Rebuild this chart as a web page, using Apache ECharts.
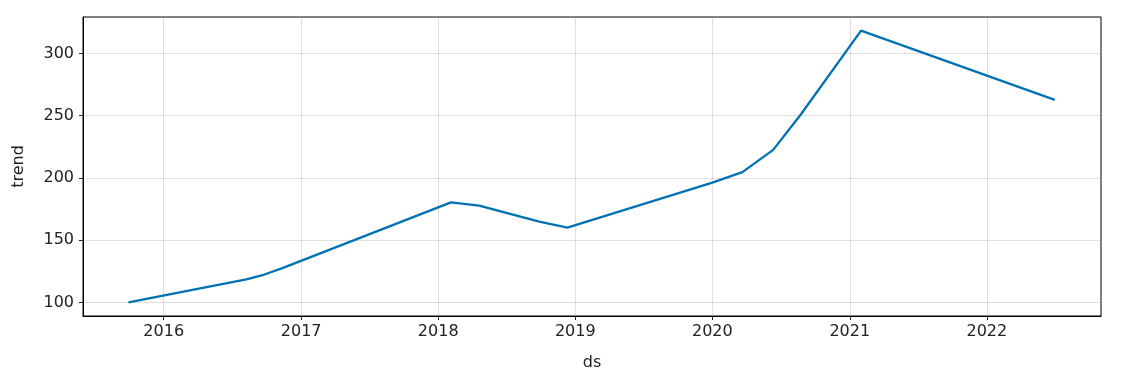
<!DOCTYPE html>
<html>
<head>
<meta charset="utf-8">
<script src="https://cdn.jsdelivr.net/npm/echarts@6/dist/echarts.min.js"></script>
<style>html,body{margin:0;padding:0;background:#fff}#c{width:1124px;height:378px}</style>
</head>
<body>
<div id="c"></div>
<script>
// Data (Prophet trend component)
const dates = ['2015-09-29','2016-08-08','2016-09-25','2016-11-12','2018-02-04','2018-04-20','2018-09-27','2018-12-11','2020-01-01','2020-03-21','2020-06-11','2020-08-23','2021-01-31','2022-07-01'];
const trend = [100.0,118.5,122.4,127.6,180.3,177.7,164.8,160.0,196.2,204.6,222.5,250.7,318.3,262.7];
const xTicks = ['2016-01-01','2017-01-01','2018-01-01','2019-01-01','2020-01-01','2021-01-01','2022-01-01'];
const yTicks = [100,150,200,250,300];
const xRange = ['2015-05-31','2022-11-01'];
const yRange = [89.1,329.2];

const ts = s => Date.parse(s + 'T00:00:00Z');
const font = 'DejaVu Sans';
const chart = echarts.init(document.getElementById('c'), null, {renderer:'canvas'});
chart.setOption({
  animation:false,
  backgroundColor:'#fff',
  grid:{left:83,right:23,top:17,bottom:62,show:true,borderColor:'#000',borderWidth:1,containLabel:false},
  xAxis:{
    type:'value', min:ts(xRange[0]), max:ts(xRange[1]),
    name:'ds', nameLocation:'middle', nameGap:39,
    nameTextStyle:{fontFamily:font,fontSize:16,color:'#222'},
    axisLine:{show:true,onZero:false,lineStyle:{color:'#000',width:1}},
    axisTick:{show:true,length:4,inside:false,lineStyle:{color:'#222'},customValues:xTicks.map(ts)},
    axisLabel:{customValues:xTicks.map(ts),fontFamily:font,fontSize:16,color:'#222',margin:8,
      formatter:v=>String(new Date(v).getUTCFullYear())},
    splitLine:{show:true,lineStyle:{color:'rgba(128,128,128,0.25)',width:1}}
  },
  yAxis:{
    type:'value', min:yRange[0], max:yRange[1],
    name:'trend', nameLocation:'middle', nameGap:56, nameRotate:90,
    nameTextStyle:{fontFamily:font,fontSize:16,color:'#222'},
    axisLine:{show:true,lineStyle:{color:'#000',width:1}},
    axisTick:{show:true,length:4,inside:false,lineStyle:{color:'#222'},customValues:yTicks},
    axisLabel:{customValues:yTicks,fontFamily:font,fontSize:16,color:'#222',margin:9},
    splitLine:{show:true,lineStyle:{color:'rgba(128,128,128,0.25)',width:1}}
  },
  series:[{
    type:'line', data:dates.map((d,i)=>[ts(d),trend[i]]),
    showSymbol:false, symbol:'none', smooth:false,
    lineStyle:{color:'#0072B2',width:2.3}
  }]
});
</script>
</body>
</html>
